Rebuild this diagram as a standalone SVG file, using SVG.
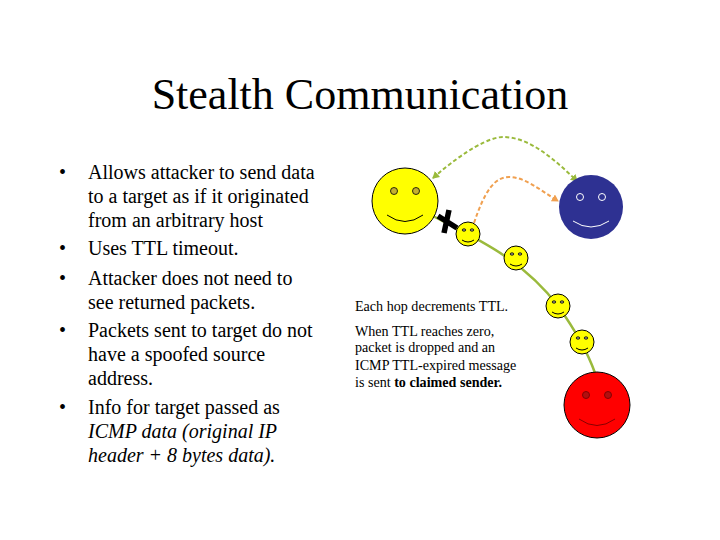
<svg xmlns="http://www.w3.org/2000/svg" width="720" height="540" viewBox="0 0 720 540">
<style>
.t{font-family:"Liberation Serif","Times New Roman",serif;fill:#000}
.b{font-size:20px}
.s{font-size:14.1px}
.face{stroke:#000;stroke-width:1}
.eye{stroke:#000;stroke-width:.8}
.smile{fill:none;stroke:#000;stroke-width:1}
.dash{fill:none;stroke-width:2;stroke-dasharray:4 2.5}
</style>
<defs>
<marker id="ag" markerWidth="8" markerHeight="8" refX="6" refY="4" orient="auto-start-reverse" markerUnits="userSpaceOnUse"><path d="M0 0L7 4L0 8z" fill="#9aba3c"/></marker>
<marker id="ao" markerWidth="8" markerHeight="8" refX="6" refY="4" orient="auto" markerUnits="userSpaceOnUse"><path d="M0 0L7 4L0 8z" fill="#f0a050"/></marker>
</defs>
<rect width="720" height="540" fill="#fff"/>
<text class="t" x="360" y="109" font-size="44" text-anchor="middle">Stealth Communication</text>
<g id="bullets" class="t b">
<text x="59" y="179">•</text><text x="88" y="179">Allows attacker to send data</text>
<text x="88" y="203">to a target as if it originated</text>
<text x="88" y="227">from an arbitrary host</text>
<text x="59" y="255">•</text><text x="88" y="255">Uses TTL timeout.</text>
<text x="59" y="285">•</text><text x="88" y="285">Attacker does not need to</text>
<text x="88" y="309">see returned packets.</text>
<text x="59" y="337">•</text><text x="88" y="337">Packets sent to target do not</text>
<text x="88" y="361">have a spoofed source</text>
<text x="88" y="385">address.</text>
<text x="59" y="414">•</text><text x="88" y="414">Info for target passed as</text>
<text x="88" y="438" font-style="italic">ICMP data (original IP</text>
<text x="88" y="462" font-style="italic">header + 8 bytes data).</text>
</g>
<g id="note" class="t s">
<text x="355" y="311">Each hop decrements TTL.</text>
<text x="355" y="336">When TTL reaches zero,</text>
<text x="355" y="352">packet is dropped and an</text>
<text x="355" y="370">ICMP TTL-expired message</text>
<text x="355" y="387">is sent <tspan font-weight="bold">to claimed sender.</tspan></text>
</g>
<g id="connectors">
<path d="M433 216C470 236 520 256 558 306C568 320 585 345 595 373" fill="none" stroke="#9aba3c" stroke-width="2.5"/>
<path class="dash" stroke="#9aba3c" marker-start="url(#ag)" marker-end="url(#ag)" d="M433 178C465 150 490 137 503 137C530 137 555 160 577 181"/>
<path class="dash" stroke="#f0a050" marker-end="url(#ao)" d="M474 223C485 190 495 177 509 177C525 177 540 190 558 201"/>
</g>
<g id="x"><path d="M438 216L457 228M449 210L444 233" stroke="#000" stroke-width="5.5" fill="none"/></g>
<g id="attacker">
<circle class="face" cx="405" cy="201" r="33" fill="#ffff00"/>
<circle class="eye" cx="394" cy="191" r="3.5" fill="#c4b030"/><circle class="eye" cx="416" cy="191" r="3.5" fill="#c4b030"/>
<path class="smile" d="M387 215Q405 228 423 215"/>
</g>
<g id="target">
<circle cx="591" cy="207" r="32" fill="#2e3192"/>
<circle cx="580" cy="197" r="3.5" fill="#2e3192" stroke="#fff"/><circle cx="602" cy="197" r="3.5" fill="#2e3192" stroke="#fff"/>
<path d="M573 221Q591 233 609 221" fill="none" stroke="#fff"/>
</g>
<g id="victim">
<circle class="face" cx="597" cy="405" r="33" fill="#ff0000"/>
<circle cx="586" cy="395" r="3.5" fill="#b01010" stroke="#800"/><circle cx="608" cy="395" r="3.5" fill="#b01010" stroke="#800"/>
<path d="M579 419Q597 432 615 419" fill="none" stroke="#800"/>
</g>
<g id="hop1"><circle class="face" cx="468" cy="234" r="12" fill="#ffff00"/><ellipse class="eye" cx="464" cy="230" rx="1.8" ry="1.2" fill="#998"/><ellipse class="eye" cx="472" cy="230" rx="1.8" ry="1.2" fill="#998"/><path class="smile" d="M462 240Q468 244 474 240"/></g>
<g id="hop2"><circle class="face" cx="516" cy="258" r="12" fill="#ffff00"/><ellipse class="eye" cx="512" cy="254" rx="1.8" ry="1.2" fill="#998"/><ellipse class="eye" cx="520" cy="254" rx="1.8" ry="1.2" fill="#998"/><path class="smile" d="M510 264Q516 268 522 264"/></g>
<g id="hop3"><circle class="face" cx="558" cy="306" r="12" fill="#ffff00"/><ellipse class="eye" cx="554" cy="302" rx="1.8" ry="1.2" fill="#998"/><ellipse class="eye" cx="562" cy="302" rx="1.8" ry="1.2" fill="#998"/><path class="smile" d="M552 312Q558 316 564 312"/></g>
<g id="hop4"><circle class="face" cx="582" cy="342" r="12" fill="#ffff00"/><ellipse class="eye" cx="578" cy="338" rx="1.8" ry="1.2" fill="#998"/><ellipse class="eye" cx="586" cy="338" rx="1.8" ry="1.2" fill="#998"/><path class="smile" d="M576 348Q582 352 588 348"/></g>
</svg>
